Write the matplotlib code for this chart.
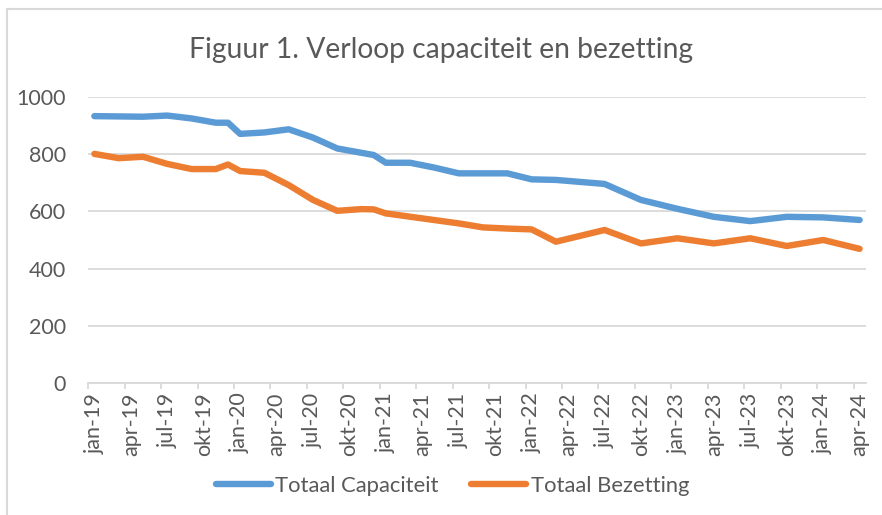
import numpy as np
import matplotlib.pyplot as plt
from matplotlib.lines import Line2D

# Dutch month labels, jan-19 .. apr-24 (category axis)
month_names = ["jan", "feb", "mrt", "apr", "mei", "jun",
               "jul", "aug", "sep", "okt", "nov", "dec"]
months = [f"{m}-{y}" for y in range(19, 25) for m in month_names][:64]

# Totaal Capaciteit (vertices)
cap_months = ["jan-19", "mei-19", "jul-19", "sep-19", "nov-19", "dec-19",
              "jan-20", "mrt-20", "mei-20", "jul-20", "sep-20", "dec-20",
              "jan-21", "mrt-21", "mei-21", "jul-21", "nov-21", "jan-22",
              "mrt-22", "jul-22", "okt-22", "jan-23", "apr-23", "jul-23",
              "okt-23", "jan-24", "apr-24"]
cap_values = [933, 931, 935, 925, 910, 910,
              871, 876, 887, 858, 820, 797,
              770, 770, 753, 733, 733, 712,
              710, 696, 640, 609, 581, 566,
              581, 579, 570]

# Totaal Bezetting
bez_months = ["jan-19", "mrt-19", "mei-19", "jul-19", "sep-19", "nov-19",
              "dec-19", "jan-20", "mrt-20", "mei-20", "jul-20", "sep-20",
              "nov-20", "dec-20", "jan-21", "jul-21", "sep-21", "nov-21",
              "jan-22", "mrt-22", "jul-22", "okt-22", "jan-23", "apr-23",
              "jul-23", "okt-23", "jan-24", "apr-24"]
bez_values = [801, 786, 791, 766, 748, 748,
              764, 741, 735, 692, 640, 602,
              608, 607, 593, 558, 544, 540,
              537, 494, 535, 488, 506, 488,
              506, 479, 500, 469]

label_months = months[::3]

plt.rcParams["font.family"] = ["Lato", "DejaVu Sans"]
grey = "#595959"
light = "#d9d9d9"

fig = plt.figure(figsize=(8.82, 5.15), dpi=100)
ax = fig.add_axes([0.1001, 0.2563, 0.8814, 0.5554])

cap_x = [months.index(m) for m in cap_months]
bez_x = [months.index(m) for m in bez_months]
l1, = ax.plot(cap_x, cap_values, color="#5B9BD5", lw=4.6,
              solid_capstyle="round", solid_joinstyle="round",
              label="Totaal Capaciteit")
l2, = ax.plot(bez_x, bez_values, color="#ED7D31", lw=4.6,
              solid_capstyle="round", solid_joinstyle="round",
              label="Totaal Bezetting")

ax.set_xlim(-0.5, len(months) - 0.5)
ax.set_ylim(0, 1000)
ax.set_yticks(range(0, 1001, 200))
ax.yaxis.grid(True, color=light, lw=1.3)
ax.set_axisbelow(True)
for s in ["left", "right", "top"]:
    ax.spines[s].set_visible(False)
ax.spines["bottom"].set_color(light)
ax.spines["bottom"].set_linewidth(1.3)

ax.set_xticks([months.index(m) for m in label_months])
ax.set_xticklabels(label_months, rotation=90)
ax.set_xticks(np.arange(-0.5, len(months) - 1, 3), minor=True)
ax.tick_params(axis="x", which="major", length=0, pad=7, labelsize=15.5,
               labelcolor=grey)
ax.tick_params(axis="x", which="minor", length=4, width=1.3, color=light)
ax.tick_params(axis="y", length=0, pad=16, labelsize=15.5, labelcolor=grey)

fig.text(0.5, 1 - 58 / 515, "Figuur 1. Verloop capaciteit en bezetting",
         ha="center", va="baseline", fontsize=20.3, color=grey)

fig.legend(handles=[l1, l2], loc="center", bbox_to_anchor=(0.513, 1 - 486 / 515),
           ncol=2, frameon=False, fontsize=15.8, labelcolor=grey,
           handlelength=2.5, handletextpad=0.2, columnspacing=1.5)

# chart area border
fig.add_artist(Line2D([7 / 882, 1], [1 - 9 / 515, 1 - 9 / 515],
                      color=light, lw=1.5, transform=fig.transFigure))
fig.add_artist(Line2D([7 / 882, 7 / 882], [0, 1 - 9 / 515],
                      color=light, lw=1.5, transform=fig.transFigure))

fig.savefig("out.png", dpi=100)
